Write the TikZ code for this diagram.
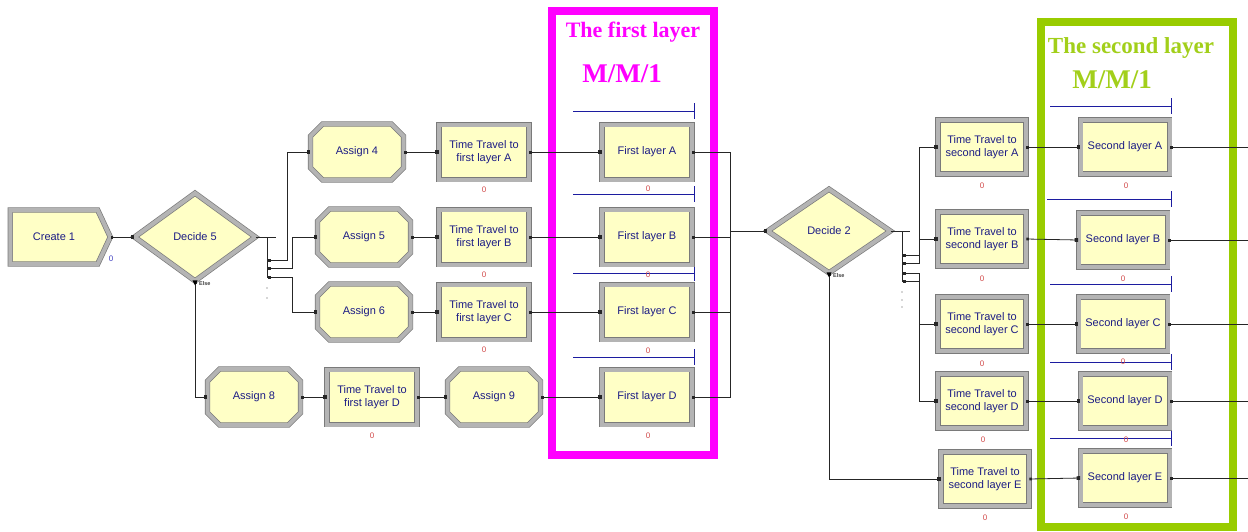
\documentclass[tikz,border=0pt]{standalone}
\usepackage{fontspec}
\setmainfont{Liberation Sans}
\newfontfamily\ttlfont{Liberation Serif}
\usetikzlibrary{shapes.geometric,shapes.misc,shapes.symbols,arrows.meta,calc}
\definecolor{modfill}{HTML}{FFFFC6}
\definecolor{modedge}{HTML}{7A7A7A}
\definecolor{modband}{HTML}{B4B4B4}
\definecolor{modtext}{HTML}{1C1C85}
\definecolor{qline}{HTML}{1C1CA0}
\definecolor{cntred}{HTML}{D04848}
\definecolor{cntblue}{HTML}{4040C0}
\definecolor{pinkbox}{HTML}{FF00FF}
\definecolor{greenbox}{HTML}{99CC00}
\definecolor{greentxt}{HTML}{A2CF1A}
\tikzset{
  module/.style={draw=modedge, line width=0.7pt, double=modband, double distance=4pt,
    fill=modfill, text=modtext, font=\fontsize{11}{12.5}\selectfont, align=center, inner sep=0pt},
  procbox/.style={module, rectangle, minimum width=90, minimum height=55},
  assignbox/.style={module, chamfered rectangle, chamfered rectangle xsep=7pt,
    chamfered rectangle ysep=7pt, minimum width=93, minimum height=56},
  createbox/.style={module, signal, signal to=east, signal pointer angle=130,
    minimum width=100, minimum height=54},
  decidebox/.style={module, diamond, aspect=1.35, minimum width=121, minimum height=88},
  counter/.style={text=cntred, font=\fontsize{8}{9}\selectfont, inner sep=0pt},
  conn/.style={draw=black!85, line width=0.8pt,
    {Square[length=2.6pt,width=2.6pt]}-{Square[length=3.6pt,width=3.6pt]}},
  plainconn/.style={draw=black!85, line width=0.8pt},
  qln/.style={draw=qline, line width=0.9pt},
  elselbl/.style={font=\bfseries\fontsize{5.5}{6}\selectfont, text=black!75, inner sep=0pt},
  framebox/.style={line width=8pt},
  ttl/.style={font=\ttlfont\bfseries\fontsize{22}{24}\selectfont, inner sep=0pt},
  mm/.style={font=\ttlfont\bfseries\fontsize{27}{29}\selectfont, inner sep=0pt},
}
\begin{document}
\begin{tikzpicture}[x=1pt,y=-1pt]
\useasboundingbox (0,0) rectangle (1248,531);
\coordinate (edge) at (1248,0);

% layer frames
\draw[framebox, pinkbox] (552,11) rectangle (714,455);
\draw[framebox, greenbox] (1041,22) rectangle (1233,527);
\node[ttl, text=pinkbox] (t1) at (633,32) {The first layer};
\node[mm, text=pinkbox] (m1) at (622,74) {M/M/1};
\node[ttl, text=greentxt, font=\ttlfont\bfseries\fontsize{23}{25}\selectfont] (t2) at (1131,48) {The second layer};
\node[mm, text=greentxt] (m2) at (1112,80) {M/M/1};

% queue lines, first layer
\foreach \y in {111,194,273,357}{
  \draw[qln] (573,\y) -- (694,\y);
  \draw[qln] (694,\y-8) -- (694,\y+8);
}
% queue lines, second layer
\foreach \y/\xs in {106/1050,199/1047,284/1050,362/1050,438/1050}{
  \draw[qln] (\xs,\y) -- (1171,\y);
  \draw[qln] (1171,\y-8) -- (1171,\y+8);
}

% modules
\node[createbox] (create) at (54,237) {Create 1};
\node[decidebox] (decide5) at (195,237) {Decide 5};
\node[assignbox] (assign4) at (357,152) {Assign 4};
\node[assignbox] (assign5) at (364,237) {Assign 5};
\node[assignbox] (assign6) at (364,312) {Assign 6};
\node[assignbox] (assign8) at (254,397) {Assign 8};
\node[procbox] (tt1a) at (484,152) {Time Travel to\\first layer A};
\node[procbox] (tt1b) at (484,237) {Time Travel to\\first layer B};
\node[procbox] (tt1c) at (484,312) {Time Travel to\\first layer C};
\node[procbox] (tt1d) at (372,397) {Time Travel to\\first layer D};
\node[assignbox] (assign9) at (494,397) {Assign 9};
\node[procbox] (fla) at (647,152) {First layer A};
\node[procbox] (flb) at (647,237) {First layer B};
\node[procbox] (flc) at (647,312) {First layer C};
\node[procbox] (fld) at (647,397) {First layer D};
\node[decidebox, minimum width=123, minimum height=84] (decide2) at (829,231) {Decide 2};
\node[procbox, minimum width=88, minimum height=54] (tt2a) at (982,147) {Time Travel to\\second layer A};
\node[procbox, minimum width=88, minimum height=54] (tt2b) at (982,239) {Time Travel to\\second layer B};
\node[procbox, minimum width=88, minimum height=54] (tt2c) at (982,324) {Time Travel to\\second layer C};
\node[procbox, minimum width=88, minimum height=54] (tt2d) at (982,401) {Time Travel to\\second layer D};
\node[procbox, minimum width=88, minimum height=54] (tt2e) at (985,479) {Time Travel to\\second layer E};
\node[procbox, minimum width=89, minimum height=54] (sla) at (1125,147) {Second layer A};
\node[procbox, minimum width=89, minimum height=54] (slb) at (1123,240) {Second layer B};
\node[procbox, minimum width=89, minimum height=54] (slc) at (1123,324) {Second layer C};
\node[procbox, minimum width=89, minimum height=54] (sld) at (1125,401) {Second layer D};
\node[procbox, minimum width=89, minimum height=54] (sle) at (1125,478) {Second layer E};

% counters
\node[counter, text=cntblue] (c-create) at (111,259) {0};
\node[counter] (c-tt1a) at (484,190) {0};
\node[counter] (c-tt1b) at (484,275) {0};
\node[counter] (c-tt1c) at (484,350) {0};
\node[counter] (c-tt1d) at (372,436) {0};
\node[counter] (c-fla) at (648,189) {0};
\node[counter] (c-flb) at (648,275) {0};
\node[counter] (c-flc) at (648,351) {0};
\node[counter] (c-fld) at (648,436) {0};
\node[counter] (c-tt2a) at (982,186) {0};
\node[counter] (c-tt2b) at (982,279) {0};
\node[counter] (c-tt2c) at (982,364) {0};
\node[counter] (c-tt2d) at (983,440) {0};
\node[counter] (c-tt2e) at (985,518) {0};
\node[counter] (c-sla) at (1126,186) {0};
\node[counter] (c-slb) at (1123,279) {0};
\node[counter] (c-slc) at (1123,362) {0};
\node[counter] (c-sld) at (1126,440) {0};
\node[counter] (c-sle) at (1126,517) {0};

% Create -> Decide 5
\draw[conn] (create.east) -- (decide5.west);

% Decide 5 fan-out
\coordinate (d5stub) at (276,237);
\coordinate (d5top) at (267,237);
\coordinate (d5bot) at (267,278);
\draw[plainconn] (decide5.east) -- (d5stub);
\draw[plainconn] (d5top) -- (d5bot);
\coordinate (e51) at (268,260);
\coordinate (e52) at (268,268);
\coordinate (e53) at (268,277);
\draw[conn] (e51) -- ++(19,0) |- (assign4.west);
\draw[conn] (e52) -- ++(24,0) |- (assign5.west);
\draw[conn] (e53) -- ++(24,0) |- (assign6.west);
\fill[black!70] (267,288) circle (0.7) (267,298) circle (0.7);
% Else of Decide 5
\draw[conn] (decide5.south) |- (assign8.west);
\fill[black] ($(decide5.south)+(-2.5,-1)$) -- ++(5,0) -- ++(-2.5,5) -- cycle;
\node[elselbl, anchor=west] (else5) at ($(decide5.south)+(4,2)$) {Else};

% first-layer paths
\draw[conn] (assign4.east) -- (tt1a.west);
\draw[conn] (assign5.east) -- (tt1b.west);
\draw[conn] (assign6.east) -- (tt1c.west);
\draw[conn] (tt1a.east) -- (fla.west);
\draw[conn] (tt1b.east) -- (flb.west);
\draw[conn] (tt1c.east) -- (flc.west);
\draw[conn] (assign8.east) -- (tt1d.west);
\draw[conn] (tt1d.east) -- (assign9.west);
\draw[conn] (assign9.east) -- (fld.west);

% first layer -> Decide 2
\coordinate (bus) at (730,231);
\draw[plainconn, {Square[length=2.6pt,width=2.6pt]}-] (fla.east) -| (bus);
\draw[plainconn, {Square[length=2.6pt,width=2.6pt]}-] (flb.east) -| (bus);
\draw[plainconn, {Square[length=2.6pt,width=2.6pt]}-] (flc.east) -| (bus);
\draw[plainconn, {Square[length=2.6pt,width=2.6pt]}-] (fld.east) -| (bus);
\draw[plainconn, -{Square[length=3.6pt,width=3.6pt]}] (bus) -- (decide2.west);

% Decide 2 fan-out
\coordinate (d2stub) at (910,231);
\coordinate (d2top) at (902,231);
\coordinate (d2bot) at (902,282);
\draw[plainconn] (decide2.east) -- (d2stub);
\draw[plainconn] (d2top) -- (d2bot);
\coordinate (e21) at (903,255);
\coordinate (e22) at (903,263);
\coordinate (e23) at (903,273);
\coordinate (e24) at (903,281);
\draw[conn] (e21) -- ++(16,0) |- (tt2a.west);
\draw[conn] (e22) -- ++(16,0) |- (tt2b.west);
\draw[conn] (e23) -- ++(16,0) |- (tt2c.west);
\draw[conn] (e24) -- ++(16,0) |- (tt2d.west);
\fill[black!70] (902,292) circle (0.7) (902,300) circle (0.7) (902,307) circle (0.7);
% Else of Decide 2
\draw[conn] (decide2.south) |- (tt2e.west);
\fill[black] ($(decide2.south)+(-2.5,-1)$) -- ++(5,0) -- ++(-2.5,5) -- cycle;
\node[elselbl, anchor=west] (else2) at ($(decide2.south)+(4,2)$) {Else};

% second-layer paths
\draw[conn] (tt2a.east) -- (sla.west);
\draw[conn] (tt2b.east) -- (slb.west);
\draw[conn] (tt2c.east) -- (slc.west);
\draw[conn] (tt2d.east) -- (sld.west);
\draw[conn] (tt2e.east) -- (sle.west);
\foreach \n in {sla,slb,slc,sld,sle}{
  \draw[plainconn, {Square[length=2.6pt,width=2.6pt]}-] (\n.east) -- (\n.east -| edge);
}
\end{tikzpicture}
\end{document}
